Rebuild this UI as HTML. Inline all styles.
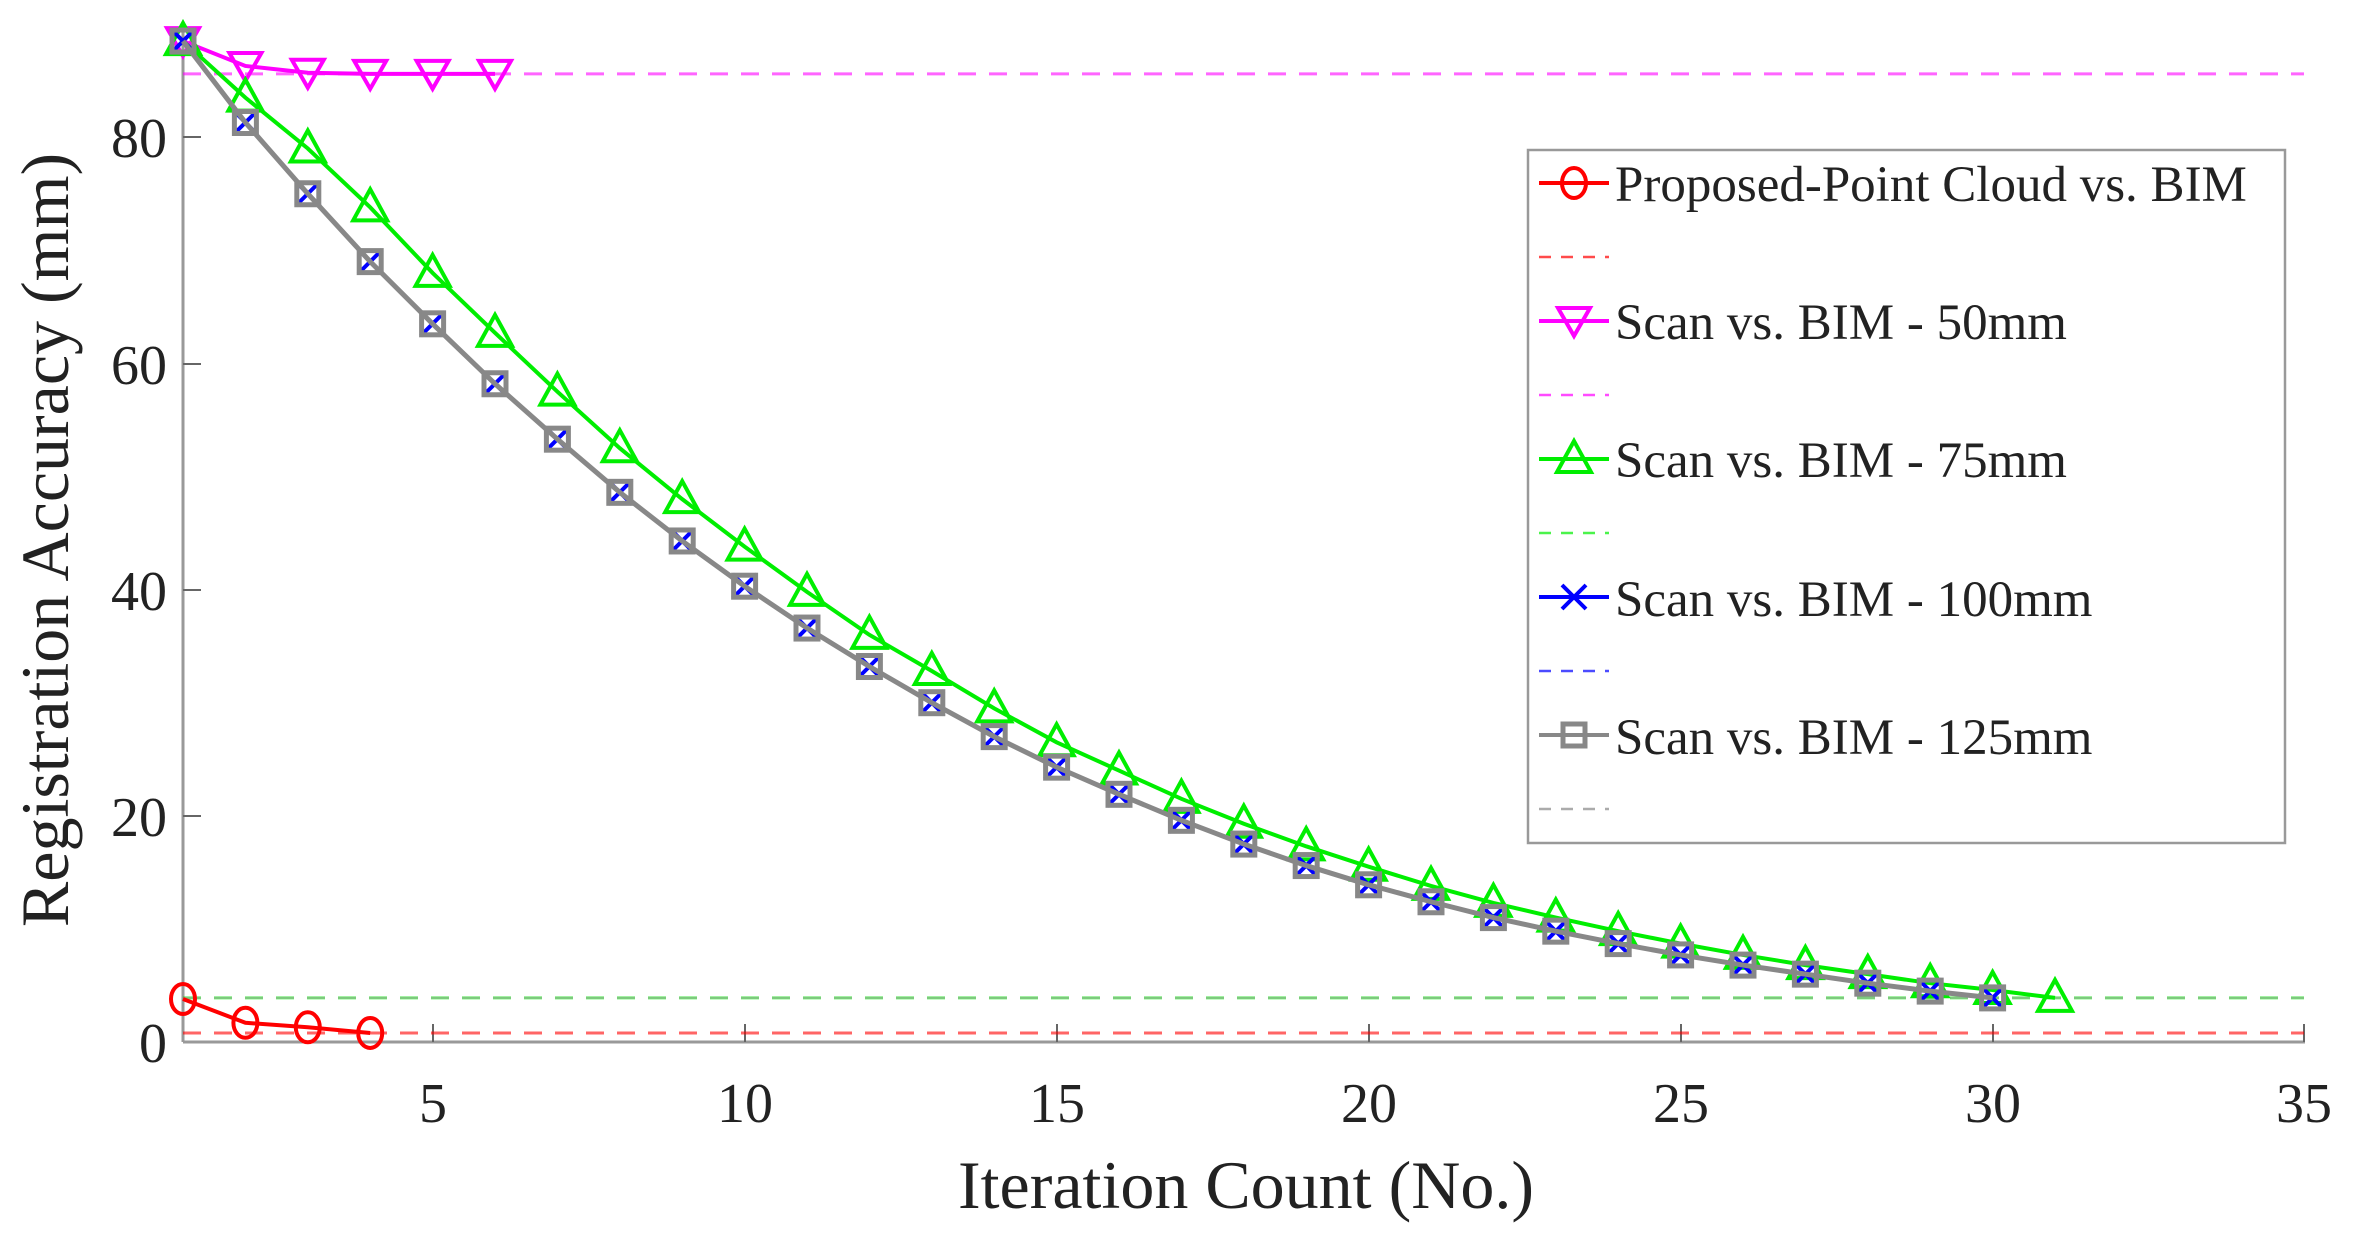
<!DOCTYPE html>
<html><head><meta charset="utf-8"><style>
html,body{margin:0;padding:0;background:#fff;}
svg{display:block;}
text{font-family:"Liberation Serif",serif;fill:#222;}
</style></head><body>
<svg id="s" width="2354" height="1238" viewBox="0 0 2354 1238" xmlns="http://www.w3.org/2000/svg">
<g stroke="#999" stroke-width="3" fill="none">
<line x1="183" y1="1042" x2="2305" y2="1042"/>
<line x1="183" y1="1042" x2="183" y2="30"/>
</g>
<g stroke="#666" stroke-width="2">
<line x1="433" y1="1042" x2="433" y2="1024"/><line x1="745" y1="1042" x2="745" y2="1024"/>
<line x1="1057" y1="1042" x2="1057" y2="1024"/><line x1="1369" y1="1042" x2="1369" y2="1024"/>
<line x1="1681" y1="1042" x2="1681" y2="1024"/><line x1="1993" y1="1042" x2="1993" y2="1024"/>
<line x1="2304" y1="1042" x2="2304" y2="1024"/>
<line x1="183" y1="816" x2="201" y2="816"/><line x1="183" y1="590" x2="201" y2="590"/>
<line x1="183" y1="364" x2="201" y2="364"/><line x1="183" y1="137" x2="201" y2="137"/>
</g>
<g font-size="56" text-anchor="middle">
<text x="433" y="1122">5</text><text x="745" y="1122">10</text><text x="1057" y="1122">15</text>
<text x="1369" y="1122">20</text><text x="1681" y="1122">25</text><text x="1993" y="1122">30</text>
<text x="2304" y="1122">35</text>
</g>
<g font-size="56" text-anchor="end">
<text x="167" y="1062">0</text><text x="167" y="836">20</text><text x="167" y="610">40</text>
<text x="167" y="384">60</text><text x="167" y="157">80</text>
</g>
<text x="1246" y="1208" font-size="68" text-anchor="middle">Iteration Count (No.)</text>
<text transform="translate(68,540) rotate(-90)" font-size="68" text-anchor="middle">Registration Accuracy (mm)</text>
<g id="data"></g>
<rect x="1528" y="150" width="757" height="693" fill="#fff" stroke="#999" stroke-width="2.5"/>
<g font-size="51">
<text x="1615" y="201">Proposed-Point Cloud vs. BIM</text>
<text x="1615" y="339">Scan vs. BIM - 50mm</text>
<text x="1615" y="477">Scan vs. BIM - 75mm</text>
<text x="1615" y="616">Scan vs. BIM - 100mm</text>
<text x="1615" y="754">Scan vs. BIM - 125mm</text>
</g>
<g id="leg"></g>
</svg>
<script>
var NS="http://www.w3.org/2000/svg";
function X(i){return 183+(i-1)*62.4;}function Y(v){return 1042-11.31*v;}
function el(p,t,a){var e=document.createElementNS(NS,t);for(var k in a)e.setAttribute(k,a[k]);p.appendChild(e);return e;}
var D=document.getElementById("data"),L=document.getElementById("leg");
function marker(g,t,x,y,c){
 if(t=="o")el(g,"ellipse",{cx:x,cy:y,rx:12,ry:15,fill:"none",stroke:c,"stroke-width":4});
 else if(t=="v")el(g,"polygon",{points:(x-16)+","+(y-13)+" "+(x+16)+","+(y-13)+" "+x+","+(y+15),fill:"none",stroke:c,"stroke-width":4});
 else if(t=="^")el(g,"polygon",{points:(x-17)+","+(y+13)+" "+(x+17)+","+(y+13)+" "+x+","+(y-18),fill:"none",stroke:c,"stroke-width":4});
 else if(t=="x"){el(g,"path",{d:"M"+(x-12)+" "+(y-12)+"L"+(x+12)+" "+(y+12)+"M"+(x+12)+" "+(y-12)+"L"+(x-12)+" "+(y+12),stroke:c,"stroke-width":4});}
 else if(t=="s")el(g,"rect",{x:x-11,y:y-11,width:22,height:22,fill:"none",stroke:c,"stroke-width":5});
}
var S=[
 {c:"#ff0000",m:"o",d:[3.8,1.7,1.3,0.8],h:0.8},
 {c:"#ff00ff",m:"v",d:[88.5,86.3,85.7,85.6,85.6,85.6],h:85.6},
 {c:"#00ee00",m:"^",d:[88.5,83.5,79,73.8,68,62.7,57.5,52.5,48,43.8,39.8,36,32.8,29.5,26.5,24,21.5,19.3,17.3,15.5,13.8,12.3,11,9.8,8.7,7.7,6.8,6,5.2,4.6,3.9],h:3.9},
 {c:"#0000ff",m:"x",d:[88.5,81.3,75,69,63.5,58.2,53.3,48.6,44.3,40.3,36.6,33.2,30,27,24.3,21.9,19.6,17.5,15.6,13.9,12.4,11,9.8,8.7,7.7,6.8,6,5.2,4.5,3.9],h:3.9},
 {c:"#888888",m:"s",d:[88.5,81.3,75,69,63.5,58.2,53.3,48.6,44.3,40.3,36.6,33.2,30,27,24.3,21.9,19.6,17.5,15.6,13.9,12.4,11,9.8,8.7,7.7,6.8,6,5.2,4.5,3.9],h:3.9}
];
S.forEach(function(s,k){if(k==3||k==4)return;el(D,"line",{x1:183,x2:2304,y1:Y(s.h),y2:Y(s.h),stroke:s.c,"stroke-width":3,"stroke-dasharray":"18 13",opacity:0.6});});
el(D,"line",{x1:183,x2:2304,y1:Y(3.9),y2:Y(3.9),stroke:"#999","stroke-width":2,"stroke-dasharray":"18 13",opacity:0.5});
S.forEach(function(s,k){
 var pts=s.d.map(function(v,i){return X(i+1)+","+Y(v);}).join(" ");
 el(D,"polyline",{points:pts,fill:"none",stroke:s.c,"stroke-width":k==4?5:4});
 s.d.forEach(function(v,i){marker(D,s.m,X(i+1),Y(v),s.c);});
 var y=183+k*138;
 el(L,"line",{x1:1539,x2:1609,y1:y,y2:y,stroke:s.c,"stroke-width":4});
 marker(L,s.m,1574,y,s.c);
 el(L,"line",{x1:1539,x2:1609,y1:y+74,y2:y+74,stroke:s.c,"stroke-width":2.5,"stroke-dasharray":"12 10",opacity:0.7});
});
</script>
</body></html>
